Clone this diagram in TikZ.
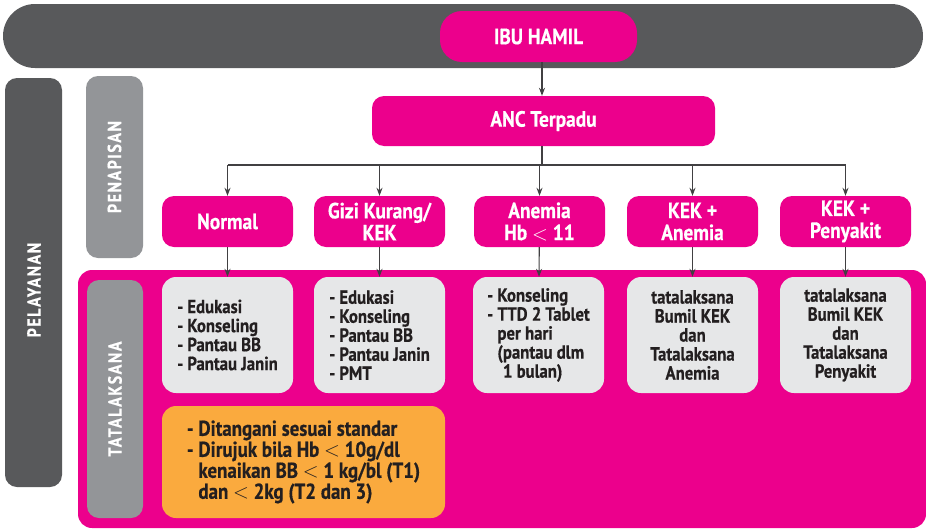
\documentclass[tikz,border=0pt]{standalone}
\usepackage{fontspec}
\setmainfont{PT Sans}[FakeStretch=0.88,BoldFeatures={FakeBold=0.5}]
\newfontfamily\spacedfont{PT Sans}[FakeStretch=0.84,LetterSpace=8,BoldFeatures={FakeBold=0.5}]
\usetikzlibrary{arrows.meta,positioning}
\definecolor{magenta}{HTML}{EC008C}
\definecolor{darkbar}{HTML}{58595B}
\definecolor{midbar}{HTML}{939598}
\definecolor{lightbox}{HTML}{E6E7E8}
\definecolor{orangebox}{HTML}{FAAA3E}
\definecolor{ink}{HTML}{231F20}
\definecolor{wire}{HTML}{414042}
\tikzset{
  base/.style={inner sep=0pt, align=center, font=\bfseries},
  pinkbox/.style={base, fill=magenta, text=white, rounded corners=12pt,
    minimum width=131pt, minimum height=51pt, font=\bfseries\fontsize{22}{22}\selectfont},
  carebox/.style={base, fill=lightbox, text=ink, rounded corners=14pt,
    minimum width=131pt, minimum height=116pt, font=\bfseries\fontsize{19}{19}\selectfont},
  sidebar/.style={base, rounded corners=12pt, text=white},
  sidelabel/.style={rotate=90, text=white, font=\spacedfont\bfseries\fontsize{19}{21}\selectfont},
  wireline/.style={draw=wire, line width=1.1pt},
  link/.style={wireline, -{Stealth[length=8pt,width=6pt]}},
}
\begin{document}
\begin{tikzpicture}[x=1pt,y=-1pt]
\useasboundingbox (0,0) rectangle (926,530);

% top band
\fill[darkbar, rounded corners=32pt] (3,4) rectangle (923,68);

% side labels
\node[sidebar, fill=darkbar, minimum width=57pt, minimum height=409pt] (pel) at (33.5,282.5) {};
\node[sidelabel] at (34,290) {PELAYANAN};
\node[sidebar, fill=midbar, minimum width=57pt, minimum height=182pt] (pen) at (114.5,167) {};
\node[sidelabel] at (pen.center) {PENAPISAN};

% treatment panel
\fill[magenta, rounded corners=14pt] (78,270) rectangle (926,528);
\node[sidebar, fill=midbar, minimum width=56pt, minimum height=238pt] (tat) at (115,399) {};
\node[sidelabel] at (tat.center) {TATALAKSANA};

% entry nodes
\node[pinkbox, rounded corners=22pt, minimum width=197pt] (ibu) at (538.5,36.5) {IBU HAMIL};
\node[pinkbox, minimum width=343pt, minimum height=50pt] (anc) at (543.5,121) {ANC Terpadu};

% screening results
\node[pinkbox] (normal) at (227.5,221.5) {Normal};
\node[pinkbox] (gizi) at (379.5,221.5) {Gizi Kurang/\\KEK};
\node[pinkbox] (anemia) at (539.5,221.5) {Anemia\\Hb $<$ 11};
\node[pinkbox] (kekan) at (692.5,221.5) {KEK +\\Anemia};
\node[pinkbox] (kekpen) at (845.5,221.5) {KEK +\\Penyakit};

% management boxes
\node[carebox, align=left] (cnormal) at (227.5,335) {- Edukasi\\- Konseling\\- Pantau BB\\- Pantau Janin};
\node[carebox, align=left] (cgizi) at (379.5,335) {- Edukasi\\- Konseling\\- Pantau BB\\- Pantau Janin\\- PMT};
\node[carebox, align=left] (canemia) at (538.5,335) {- Konseling\\- TTD 2 Tablet\\\phantom{- }per hari\\\phantom{- }(pantau dlm\\\phantom{- (}1 bulan)};
\node[carebox] (ckekan) at (692.5,335) {tatalaksana\\Bumil KEK\\dan\\Tatalaksana\\Anemia};
\node[carebox] (ckekpen) at (845.5,335) {tatalaksana\\Bumil KEK\\dan\\Tatalaksana\\Penyakit};

\node[base, fill=orangebox, text=ink, rounded corners=14pt, minimum width=283pt, minimum height=112pt,
  align=left, font=\bfseries\fontsize{21.5}{21}\selectfont] (refer) at (303.5,462)
  {- Ditangani sesuai standar\\- Dirujuk bila Hb $<$ 10g/dl\\\phantom{- }kenaikan BB $<$ 1 kg/bl (T1)\\\phantom{- }dan $<$ 2kg (T2 dan 3)};

% connectors
\coordinate (split) at (542,165);
\draw[link] (ibu.south -| split) -- (anc.north -| split);
\draw[wireline] (anc.south -| split) -- (split);
\draw[wireline] (normal.north |- split) -- (kekpen.north |- split);
\foreach \t in {normal,gizi,anemia,kekan,kekpen}{
  \draw[link] (\t.north |- split) -- (\t.north);
}
\draw[link] (normal) -- (cnormal);
\draw[link] (gizi) -- (cgizi);
\draw[link] (anemia) -- (canemia);
\draw[link] (kekan) -- (ckekan);
\draw[link] (kekpen) -- (ckekpen);
\end{tikzpicture}
\end{document}
